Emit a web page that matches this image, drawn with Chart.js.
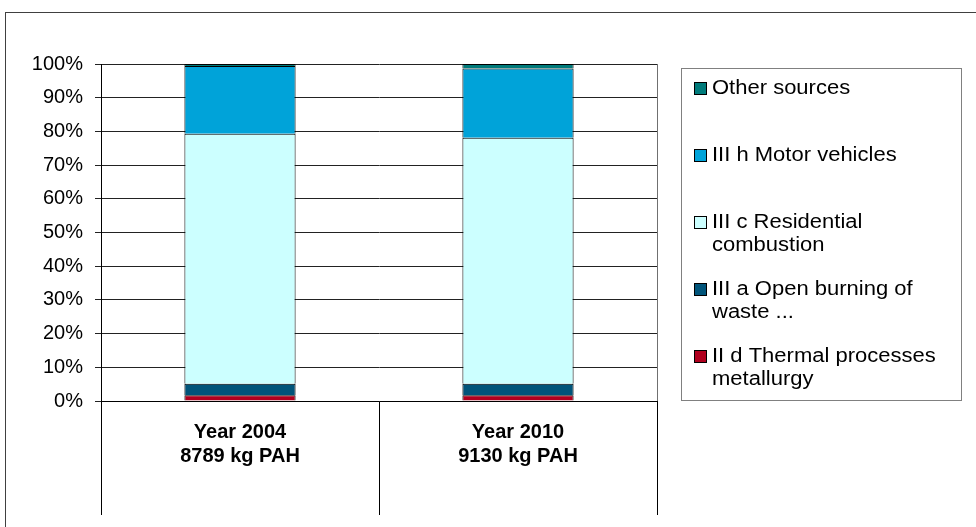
<!DOCTYPE html>
<html lang="en">
<head>
  <meta charset="UTF-8">
  <title>PAH emissions by source</title>
  <script src="https://cdn.jsdelivr.net/npm/chart.js"></script>
  <style>
    html, body { margin: 0; padding: 0; background: #fff; }
    #wrap { width: 976px; height: 527px; }
  </style>
</head>
<body>
  <div id="wrap">
    <canvas id="grafPah" width="976" height="527"></canvas>
  </div>

  <script>
    /* --- Datos (% del total de cada año) --- */
    const categories = [['Year 2004', '8789 kg PAH'], ['Year 2010', '9130 kg PAH']];
    const yTicks = [0, 10, 20, 30, 40, 50, 60, 70, 80, 90, 100];

    const thermal       = [1.7, 1.7];
    const openBurning   = [3.4, 3.4];
    const residential   = [74.2, 73.0];
    const motorVehicles = [20.1, 20.6];
    const otherSources  = [0.6, 1.3];

    const seriesNames = [
      'II d Thermal processes metallurgy',
      'III a Open burning of waste ...',
      'III c Residential combustion',
      'III h Motor vehicles',
      'Other sources'
    ];
    // lineas de la leyenda (texto partido como en el grafico)
    const legendLines = [
      ['II d Thermal processes', 'metallurgy'],
      ['III a Open burning of', 'waste ...'],
      ['III c Residential', 'combustion'],
      ['III h Motor vehicles'],
      ['Other sources']
    ];
    const seriesColors = ['#B0001E', '#00547A', '#CCFFFF', '#00A3D9', '#007B7B'];
    const seriesValues = [thermal, openBurning, residential, motorVehicles, otherSources];

    const FONT = '"Liberation Sans", Arial, sans-serif';

    /* --- Marco exterior, borde del area y leyenda --- */
    const decor = {
      id: 'decor',
      beforeDraw(chart) {
        const ctx = chart.ctx;
        ctx.save();
        ctx.strokeStyle = '#404040';
        ctx.lineWidth = 1;
        ctx.strokeRect(5.5, 12.5, 1200, 800);
        ctx.restore();
      },
      afterDraw(chart) {
        const ctx = chart.ctx;
        const a = chart.chartArea;
        ctx.save();
        // borde derecho del area de trazado
        ctx.strokeStyle = '#707070';
        ctx.beginPath();
        ctx.moveTo(Math.round(a.right) + 0.5, a.top);
        ctx.lineTo(Math.round(a.right) + 0.5, a.bottom);
        ctx.stroke();

        // caja de la leyenda
        const bx = 681, by = 68, bw = 280, bh = 332;
        ctx.strokeStyle = '#808080';
        ctx.strokeRect(bx + 0.5, by + 0.5, bw, bh);

        ctx.font = '20px ' + FONT;
        ctx.textBaseline = 'middle';
        ctx.textAlign = 'left';
        const n = chart.data.datasets.length;
        for (let k = 0; k < n; k++) {
          const i = n - 1 - k;              // serie superior primero
          const ds = chart.data.datasets[i];
          const cy = by + 20 + k * 67;
          ctx.fillStyle = ds.backgroundColor;
          ctx.fillRect(694, cy - 6, 13, 13);
          ctx.strokeStyle = '#000';
          ctx.strokeRect(694.5, cy - 5.5, 12, 12);
          ctx.fillStyle = '#000';
          legendLines[i].forEach((t, j) => {
            // texto algo mas ancho, como el original de Excel
            ctx.save();
            ctx.translate(712, cy + j * 23);
            ctx.scale(1.1, 1);
            ctx.fillText(t, 0, 0);
            ctx.restore();
          });
        }
        ctx.restore();
      }
    };

    new Chart(document.getElementById('grafPah'), {
      type: 'bar',
      data: {
        labels: categories,
        datasets: seriesValues.map((vals, i) => ({
          label: seriesNames[i],
          data: vals,
          backgroundColor: seriesColors[i],
          borderColor: '#000',
          borderWidth: 1,
          categoryPercentage: 0.4,
          barPercentage: 1
        }))
      },
      options: {
        responsive: false,
        animation: false,
        devicePixelRatio: 1,
        layout: { padding: { left: 0, top: 64, right: 319, bottom: 0 } },
        plugins: {
          legend: { display: false },
          tooltip: { enabled: false }
        },
        scales: {
          x: {
            stacked: true,
            border: { display: true, color: '#000', width: 1 },
            grid: {
              offset: true,
              drawOnChartArea: false,
              drawTicks: true,
              tickLength: 114,
              color: '#000'
            },
            ticks: {
              color: '#000',
              padding: -95,
              maxRotation: 0,
              font: { family: FONT, size: 20, weight: 'bold', lineHeight: 1.2 }
            },
            afterFit(scale) { scale.height = 126; }
          },
          y: {
            stacked: true,
            min: 0,
            max: 100,
            afterBuildTicks(scale) { scale.ticks = yTicks.map(v => ({ value: v })); },
            border: { display: true, color: '#000', width: 1 },
            grid: { color: '#222', tickLength: 6, drawTicks: true },
            ticks: {
              color: '#000',
              padding: 12,
              callback: v => v + '%',
              font: { family: FONT, size: 20 }
            },
            afterFit(scale) { scale.width = 101; }
          }
        }
      },
      plugins: [decor]
    });
  </script>
</body>
</html>
